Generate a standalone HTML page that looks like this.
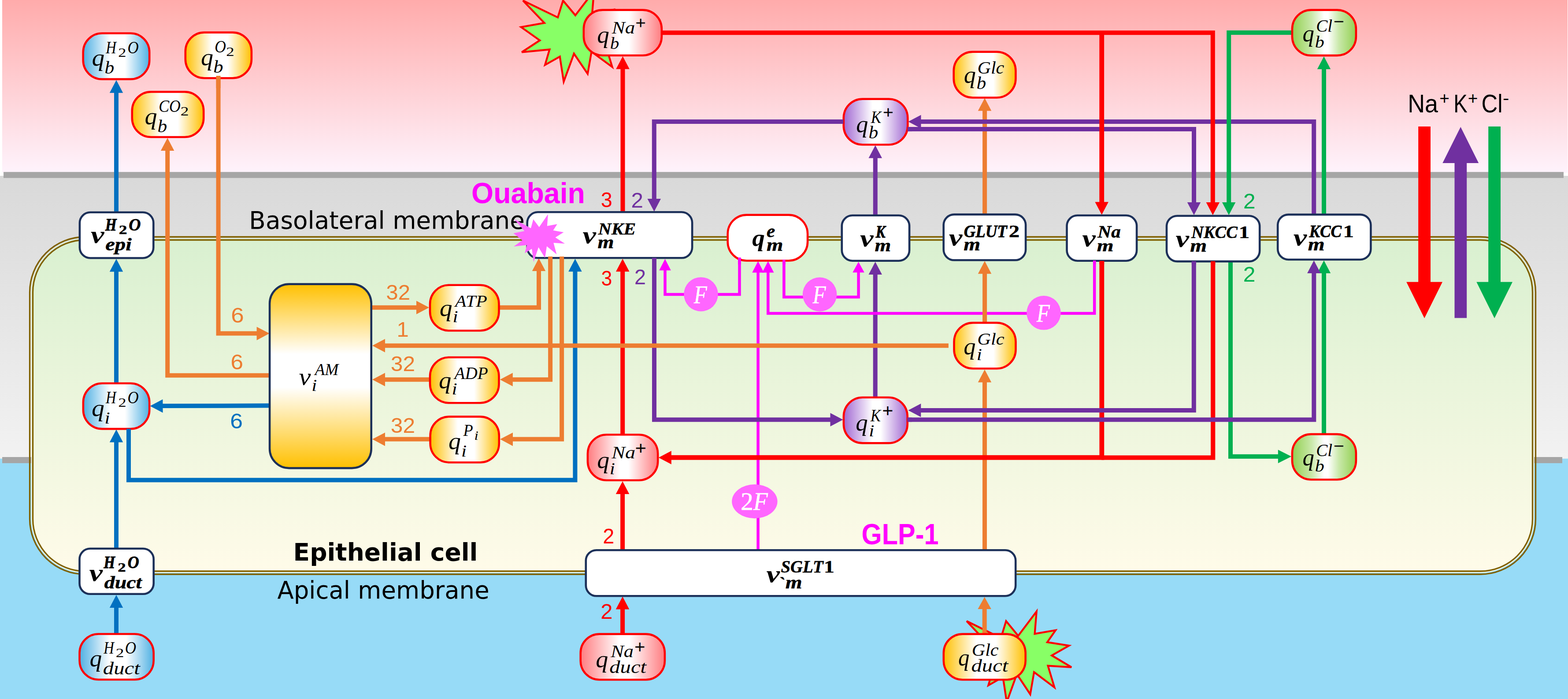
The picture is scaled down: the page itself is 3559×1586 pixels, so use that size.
<!DOCTYPE html>
<html lang="en"><head><meta charset="utf-8"><title>Epithelial cell transport model</title>
<style>html,body{margin:0;padding:0;background:#fff;overflow:hidden}svg{display:block}text{white-space:pre}.sans{font-family:"Liberation Sans",sans-serif}.sb{font-family:"Liberation Sans",sans-serif;font-weight:bold}.dv{font-family:"DejaVu Sans","Liberation Sans",sans-serif}.dvb{font-family:"DejaVu Sans","Liberation Sans",sans-serif;font-weight:bold}.mi{font-family:"Liberation Serif",serif;font-style:italic}.mb{font-family:"Liberation Serif",serif;font-style:italic;font-weight:bold}.mr{font-family:"Liberation Serif",serif}.mB{font-family:"Liberation Serif",serif;font-weight:bold}</style></head><body>
<svg width="3559" height="1586" viewBox="0 0 3559 1586">
<defs>
<linearGradient id="gPink" x1="0" y1="0" x2="0" y2="1"><stop offset="0" stop-color="#ffabab"/><stop offset="1" stop-color="#fef3fc"/></linearGradient>
<linearGradient id="gGray" x1="0" y1="0" x2="0" y2="1"><stop offset="0" stop-color="#d9d9d9"/><stop offset="1" stop-color="#f2f2f2"/></linearGradient>
<linearGradient id="gCell" x1="0" y1="0" x2="0" y2="1"><stop offset="0" stop-color="#d9f0d0"/><stop offset="1" stop-color="#fffbe9"/></linearGradient>
<linearGradient id="gAM" x1="0" y1="0" x2="0" y2="1"><stop offset="0.000" stop-color="#ffc000"/><stop offset="0.380" stop-color="#fff"/><stop offset="0.560" stop-color="#fff"/><stop offset="1.000" stop-color="#ffc000"/></linearGradient>
<linearGradient id="gB" x1="0" y1="0" x2="1" y2="0"><stop offset="0.000" stop-color="#4fb0e3"/><stop offset="0.410" stop-color="#fff"/><stop offset="0.630" stop-color="#fff"/><stop offset="1.000" stop-color="#4fb0e3"/></linearGradient>
<linearGradient id="gY" x1="0" y1="0" x2="1" y2="0"><stop offset="0.000" stop-color="#ffc000"/><stop offset="0.400" stop-color="#fff"/><stop offset="0.640" stop-color="#fff"/><stop offset="1.000" stop-color="#ffc000"/></linearGradient>
<linearGradient id="gR" x1="0" y1="0" x2="1" y2="0"><stop offset="0.000" stop-color="#ff7c80"/><stop offset="0.460" stop-color="#fff"/><stop offset="0.580" stop-color="#fff"/><stop offset="1.000" stop-color="#ff7c80"/></linearGradient>
<linearGradient id="gP" x1="0" y1="0" x2="1" y2="0"><stop offset="0.000" stop-color="#a168d2"/><stop offset="0.450" stop-color="#fff"/><stop offset="0.580" stop-color="#fff"/><stop offset="1.000" stop-color="#a168d2"/></linearGradient>
<linearGradient id="gG" x1="0" y1="0" x2="1" y2="0"><stop offset="0.000" stop-color="#92d050"/><stop offset="0.300" stop-color="#c8e8a8"/><stop offset="0.500" stop-color="#fff"/><stop offset="0.560" stop-color="#fff"/><stop offset="0.736" stop-color="#c8e8a8"/><stop offset="1.000" stop-color="#92d050"/></linearGradient>
</defs>
<rect x="0" y="0" width="3559" height="1586" fill="#fff"/>
<rect x="5" y="0" width="3553" height="392" fill="url(#gPink)"/>
<rect x="0" y="399" width="3559" height="642" fill="url(#gGray)"/>
<rect x="0" y="1040.6" width="3559" height="546" fill="#97dbf7"/>
<rect x="8" y="390.2" width="3541" height="13.6" fill="#a6a6a6"/>
<rect x="5" y="1037" width="66" height="13.9" fill="#a6a6a6"/>
<rect x="3482" y="1037" width="64" height="13.9" fill="#a6a6a6"/>
<rect x="71" y="541" width="3411" height="758.5" rx="122" fill="url(#gCell)"/>
<rect x="67.5" y="537.5" width="3418" height="765.5" rx="125.5" fill="none" stroke="#7f6000" stroke-width="3.3"/>
<rect x="74.5" y="544.5" width="3404" height="751.5" rx="118.5" fill="none" stroke="#7f6000" stroke-width="3.3"/>
<text transform="translate(565.36 519.3) scale(0.989 1)" font-size="55.4" class="dv">Basolateral membrane</text>
<text transform="translate(665.61 1272) scale(0.982 1)" font-size="56" class="dvb">Epithelial cell</text>
<text transform="translate(629.39 1358.3) scale(0.974 1)" font-size="56" class="dv">Apical membrane</text>
<polygon points="1305.9,34.7 1348.3,-20.6 1344.1,30.2 1392.3,21.9 1373.2,49.1 1423.3,57 1383.5,79.3 1429,106.1 1374.7,102.8 1389.6,151.9 1342.6,117.2 1333.8,167.5 1302.8,121.8 1279.5,185.3 1270.7,128.4 1237.1,147.3 1247.4,112.3 1184.3,118.4 1225.2,91.6 1182.8,61.5 1235.5,52 1187,1.3 1266.1,39.6 1278,1.3" fill="#88ff66" stroke="#ff0000" stroke-width="4.3" stroke-linejoin="miter" stroke-miterlimit="4.1"/>
<polygon points="2311,1442.7 2352.7,1387.5 2348.6,1438.2 2395.9,1429.9 2377.1,1457.1 2426.4,1464.9 2387.3,1487.2 2432,1513.9 2378.6,1510.6 2393.3,1559.7 2347.1,1525 2338.4,1575.3 2308,1529.6 2285.1,1593 2276.4,1536.2 2243.4,1555.1 2253.5,1520.1 2191.5,1526.3 2231.7,1499.5 2190,1469.5 2241.8,1460 2194.1,1409.3 2271.9,1447.6 2283.6,1409.3" fill="#88ff66" stroke="#ff0000" stroke-width="4.3" stroke-linejoin="miter" stroke-miterlimit="4.1"/>
<polygon points="3219.2,287 3247,287 3247,639.7 3274,639.7 3233.1,722 3192.2,639.7 3219.2,639.7" fill="#ff0000"/>
<polygon points="3315.3,288 3356.2,370 3329.2,370 3329.2,721.5 3301.5,721.5 3301.5,370 3274.3,370" fill="#7030a0"/>
<polygon points="3378.2,287 3406,287 3406,639.7 3433,639.7 3392.1,722 3351.3,639.7 3378.2,639.7" fill="#00b050"/>
<polyline points="1720.6,1248 1720.6,617.5" fill="none" stroke="#ff00ff" stroke-width="6.5"/>
<polygon points="1720.6,592.5 1733.8,618.5 1707.3,618.5" fill="#ff00ff"/>
<polyline points="1678.5,584.3 1678.5,668 1509.5,668 1509.5,612.5" fill="none" stroke="#ff00ff" stroke-width="6.5"/>
<polygon points="1509.5,587.5 1522.8,613.5 1496.2,613.5" fill="#ff00ff"/>
<polyline points="1779.4,589.3 1779.4,674 1948.6,674 1948.6,617.3" fill="none" stroke="#ff00ff" stroke-width="6.5"/>
<polygon points="1948.6,594 1961.8,618.3 1935.3,618.3" fill="#ff00ff"/>
<polyline points="264,1439 264,1378" fill="none" stroke="#0070c0" stroke-width="10"/>
<polygon points="264,1350 279.2,1379 248.8,1379" fill="#0070c0"/>
<polyline points="264,1244 264,1002.5" fill="none" stroke="#0070c0" stroke-width="10"/>
<polygon points="264,974.5 279.2,1003.5 248.8,1003.5" fill="#0070c0"/>
<polyline points="264,869 264,615.5" fill="none" stroke="#0070c0" stroke-width="10"/>
<polygon points="264,587.5 279.2,616.5 248.8,616.5" fill="#0070c0"/>
<polyline points="264,482 264,209.7" fill="none" stroke="#0070c0" stroke-width="10"/>
<polygon points="264,181.7 279.2,210.7 248.8,210.7" fill="#0070c0"/>
<polyline points="612,920.3 368.5,921.1" fill="none" stroke="#0070c0" stroke-width="10"/>
<polygon points="340.5,921.2 369.4,905.9 369.6,936.4" fill="#0070c0"/>
<polyline points="292,971 292,1089.3 1305.4,1089.3 1305.4,615.3" fill="none" stroke="#0070c0" stroke-width="10"/>
<polygon points="1305.4,587.3 1320.7,616.3 1290.2,616.3" fill="#0070c0"/>
<polyline points="2235.1,488 2235.1,250.5" fill="none" stroke="#ed7d31" stroke-width="10"/>
<polygon points="2235.1,222.5 2250.3,251.5 2219.8,251.5" fill="#ed7d31"/>
<polyline points="2235,1249 2235,866.4" fill="none" stroke="#ed7d31" stroke-width="10"/>
<polygon points="2235,838.4 2250.2,867.4 2219.8,867.4" fill="#ed7d31"/>
<polyline points="2234.7,1439 2234.7,1381" fill="none" stroke="#ed7d31" stroke-width="10"/>
<polygon points="2234.7,1354.5 2249.9,1382 2219.4,1382" fill="#ed7d31"/>
<polyline points="1413.1,1439 1413.1,1381.5" fill="none" stroke="#ff0000" stroke-width="10"/>
<polygon points="1413.1,1353.5 1428.3,1382.5 1397.8,1382.5" fill="#ff0000"/>
<polyline points="1413.1,1249 1413.1,1120" fill="none" stroke="#ff0000" stroke-width="10"/>
<polygon points="1413.1,1092 1428.3,1121 1397.8,1121" fill="#ff0000"/>
<polyline points="1413.2,987 1413.2,615.3" fill="none" stroke="#ff0000" stroke-width="10"/>
<polygon points="1413.2,587.3 1428.5,616.3 1398,616.3" fill="#ff0000"/>
<polyline points="1413.5,482 1413.5,155.8" fill="none" stroke="#ff0000" stroke-width="10"/>
<polygon points="1413.5,127.8 1428.8,156.8 1398.2,156.8" fill="#ff0000"/>
<polyline points="2753.2,593 2753.2,1038.4 2500,1038.4" fill="none" stroke="#ff0000" stroke-width="10.2"/>
<polyline points="2500.8,592 2500.8,1038.2 1522.8,1038.2" fill="none" stroke="#ff0000" stroke-width="10.8"/>
<polygon points="1494.8,1038.2 1523.8,1023 1523.8,1053.5" fill="#ff0000"/>
<polyline points="3005,986 3005,619" fill="none" stroke="#00b050" stroke-width="10"/>
<polygon points="3005,591 3020.2,620 2989.8,620" fill="#00b050"/>
<polyline points="2793,593 2793,1035.8 2901.9,1035.8" fill="none" stroke="#00b050" stroke-width="10"/>
<polygon points="2931.2,1035.8 2900.9,1051 2900.9,1020.5" fill="#00b050"/>
<polyline points="1915,276 1484.8,276 1484.8,452" fill="none" stroke="#7030a0" stroke-width="10"/>
<polygon points="1484.8,480 1469.5,451 1500,451" fill="#7030a0"/>
<polyline points="1485,585 1485,952.2 1885.5,952.2" fill="none" stroke="#7030a0" stroke-width="10"/>
<polygon points="1913.5,952.2 1884.5,967.5 1884.5,937" fill="#7030a0"/>
<polyline points="1986.8,489 1986.8,357.8" fill="none" stroke="#7030a0" stroke-width="10"/>
<polygon points="1986.8,329.8 2002,358.8 1971.5,358.8" fill="#7030a0"/>
<polyline points="1986.7,903 1986.7,622" fill="none" stroke="#7030a0" stroke-width="10"/>
<polygon points="1986.7,594 2002,623 1971.5,623" fill="#7030a0"/>
<polyline points="2982.2,487 2982.2,276 2089.5,276" fill="none" stroke="#7030a0" stroke-width="10"/>
<polygon points="2061.5,276 2090.5,260.8 2090.5,291.2" fill="#7030a0"/>
<polyline points="2059,293.1 2710,293.1 2710,460" fill="none" stroke="#7030a0" stroke-width="10"/>
<polygon points="2710,488 2694.8,459 2725.2,459" fill="#7030a0"/>
<polyline points="2709.8,593 2709.8,931 2089.3,931" fill="none" stroke="#7030a0" stroke-width="10"/>
<polygon points="2061.3,931 2090.3,915.8 2090.3,946.2" fill="#7030a0"/>
<polyline points="2059,952.2 2982.3,952.2 2982.3,619" fill="none" stroke="#7030a0" stroke-width="10"/>
<polygon points="2982.3,591 2997.6,620 2967.1,620" fill="#7030a0"/>
<polyline points="2484.2,592 2484.2,711 1743.3,711 1743.3,617.5" fill="none" stroke="#ff00ff" stroke-width="6.5"/>
<polygon points="1743.3,592.5 1756.5,618.5 1730,618.5" fill="#ff00ff"/>
<polyline points="2235.1,733 2235.1,620.2" fill="none" stroke="#ed7d31" stroke-width="10"/>
<polygon points="2235.1,592.2 2250.3,621.2 2219.8,621.2" fill="#ed7d31"/>
<polyline points="2500.7,74.3 2500.7,459.3" fill="none" stroke="#ff0000" stroke-width="10.8"/>
<polygon points="2500.7,487.3 2485.4,458.3 2515.9,458.3" fill="#ff0000"/>
<polyline points="1501,74.3 2752.8,74.3 2752.8,460" fill="none" stroke="#ff0000" stroke-width="10"/>
<polygon points="2752.8,488 2737.6,459 2768.1,459" fill="#ff0000"/>
<polyline points="2933,74 2789.2,74 2789.2,460" fill="none" stroke="#00b050" stroke-width="10"/>
<polygon points="2789.2,488 2773.9,459 2804.4,459" fill="#00b050"/>
<polyline points="3005,487 3005,156" fill="none" stroke="#00b050" stroke-width="10"/>
<polygon points="3005,128 3020.2,157 2989.8,157" fill="#00b050"/>
<polyline points="495.6,172 495.6,756.6 583.6,756.6" fill="none" stroke="#ed7d31" stroke-width="10"/>
<polygon points="611.6,756.6 582.6,771.9 582.6,741.4" fill="#ed7d31"/>
<polyline points="612,851.8 380.2,851.8 380.2,341" fill="none" stroke="#ed7d31" stroke-width="10"/>
<polygon points="380.2,313 395.4,342 364.9,342" fill="#ed7d31"/>
<polyline points="843,697.8 946,697.8" fill="none" stroke="#ed7d31" stroke-width="10"/>
<polygon points="974,697.8 945,713 945,682.5" fill="#ed7d31"/>
<polyline points="976,861.3 873,861.3" fill="none" stroke="#ed7d31" stroke-width="10"/>
<polygon points="845,861.3 874,846 874,876.5" fill="#ed7d31"/>
<polyline points="976,996.6 873,996.6" fill="none" stroke="#ed7d31" stroke-width="10"/>
<polygon points="845,996.6 874,981.4 874,1011.9" fill="#ed7d31"/>
<polyline points="1131,697.8 1223,697.8 1223,614" fill="none" stroke="#ed7d31" stroke-width="10"/>
<polygon points="1223,586 1238.2,615 1207.8,615" fill="#ed7d31"/>
<polyline points="1249.1,582 1249.1,861.3 1162.8,861.3" fill="none" stroke="#ed7d31" stroke-width="10"/>
<polygon points="1134.8,861.3 1163.8,846 1163.8,876.5" fill="#ed7d31"/>
<polyline points="1275.1,582 1275.1,996.6 1163,996.6" fill="none" stroke="#ed7d31" stroke-width="10"/>
<polygon points="1135,996.6 1164,981.4 1164,1011.9" fill="#ed7d31"/>
<polyline points="2152.9,784.2 873,784.2" fill="none" stroke="#ed7d31" stroke-width="10"/>
<polygon points="845,784.2 874,769 874,799.5" fill="#ed7d31"/>
<ellipse cx="1591" cy="667.7" rx="38.8" ry="38.8" fill="#ff66ff"/>
<text transform="translate(1575.04 687.8) scale(0.869 1)" font-size="56" class="mi" fill="#fff" stroke="#fff" stroke-width="0.7">F</text>
<ellipse cx="1860.6" cy="668" rx="38.8" ry="38.8" fill="#ff66ff"/>
<text transform="translate(1844.64 688.1) scale(0.869 1)" font-size="56" class="mi" fill="#fff" stroke="#fff" stroke-width="0.7">F</text>
<ellipse cx="2369" cy="709.8" rx="38.8" ry="38.8" fill="#ff66ff"/>
<text transform="translate(2353.04 729.9) scale(0.869 1)" font-size="56" class="mi" fill="#fff" stroke="#fff" stroke-width="0.7">F</text>
<ellipse cx="1712.9" cy="1137.7" rx="51.7" ry="38.6" fill="#ff66ff"/>
<text transform="translate(1681.17 1157.2) scale(1.020 1)" font-size="56" class="mr" fill="#fff" stroke="#fff" stroke-width="0.7">2</text>
<text transform="translate(1709.97 1157.2) scale(0.957 1)" font-size="56" class="mi" fill="#fff" stroke="#fff" stroke-width="0.7">F</text>
<rect x="188.7" y="75.5" width="150.5" height="104.1" rx="43" fill="url(#gB)" stroke="#ff0000" stroke-width="4.6"/>
<rect x="420.8" y="73.6" width="150.1" height="103.7" rx="43" fill="url(#gY)" stroke="#ff0000" stroke-width="4.6"/>
<rect x="299.8" y="208.4" width="162.4" height="102.6" rx="43" fill="url(#gY)" stroke="#ff0000" stroke-width="4.6"/>
<rect x="188.9" y="869.7" width="150.3" height="103.4" rx="43" fill="url(#gB)" stroke="#ff0000" stroke-width="4.6"/>
<rect x="180.5" y="1438.5" width="168.2" height="103.5" rx="43" fill="url(#gB)" stroke="#ff0000" stroke-width="4.6"/>
<rect x="976" y="646.8" width="156.5" height="103.5" rx="43" fill="url(#gY)" stroke="#ff0000" stroke-width="4.6"/>
<rect x="976" y="810.7" width="156.5" height="103.5" rx="43" fill="url(#gY)" stroke="#ff0000" stroke-width="4.6"/>
<rect x="976.6" y="945.4" width="156.2" height="103.9" rx="43" fill="url(#gY)" stroke="#ff0000" stroke-width="4.6"/>
<rect x="1324.8" y="22.6" width="177.1" height="103.1" rx="43" fill="url(#gR)" stroke="#ff0000" stroke-width="4.6"/>
<rect x="1651.7" y="487.6" width="181.4" height="103.9" rx="43" fill="#fff" stroke="#ff0000" stroke-width="4.6"/>
<rect x="1914.8" y="224.6" width="145.5" height="103.7" rx="43" fill="url(#gP)" stroke="#ff0000" stroke-width="4.6"/>
<rect x="2164.7" y="117.6" width="140.7" height="103.9" rx="43" fill="url(#gY)" stroke="#ff0000" stroke-width="4.6"/>
<rect x="2933" y="22.6" width="144.9" height="103.3" rx="43" fill="url(#gG)" stroke="#ff0000" stroke-width="4.6"/>
<rect x="2165.5" y="732.4" width="140" height="103.9" rx="43" fill="url(#gY)" stroke="#ff0000" stroke-width="4.6"/>
<rect x="1914.9" y="901.8" width="144.8" height="103.6" rx="43" fill="url(#gP)" stroke="#ff0000" stroke-width="4.6"/>
<rect x="1333.9" y="986.3" width="159.3" height="103.5" rx="43" fill="url(#gR)" stroke="#ff0000" stroke-width="4.6"/>
<rect x="2933" y="985.1" width="144.9" height="103.2" rx="43" fill="url(#gG)" stroke="#ff0000" stroke-width="4.6"/>
<rect x="1317.7" y="1438.6" width="191.2" height="103.7" rx="43" fill="url(#gR)" stroke="#ff0000" stroke-width="4.6"/>
<rect x="2141.8" y="1438.6" width="185.9" height="103.7" rx="43" fill="url(#gY)" stroke="#ff0000" stroke-width="4.6"/>
<rect x="180.9" y="481.8" width="167.4" height="103.7" rx="24" fill="#fff" stroke="#1c3059" stroke-width="4.6"/>
<rect x="180.5" y="1244.8" width="168.2" height="103" rx="24" fill="#fff" stroke="#1c3059" stroke-width="4.6"/>
<rect x="1196.7" y="481.3" width="374.4" height="104" rx="24" fill="#fff" stroke="#1c3059" stroke-width="4.6"/>
<rect x="1910.8" y="488.8" width="153.3" height="102.9" rx="24" fill="#fff" stroke="#1c3059" stroke-width="4.6"/>
<rect x="2141.7" y="486.6" width="186.4" height="103.7" rx="24" fill="#fff" stroke="#1c3059" stroke-width="4.6"/>
<rect x="2421.5" y="488.8" width="158.6" height="102.9" rx="24" fill="#fff" stroke="#1c3059" stroke-width="4.6"/>
<rect x="2648" y="489.7" width="211.2" height="103.4" rx="24" fill="#fff" stroke="#1c3059" stroke-width="4.6"/>
<rect x="2900.2" y="486.9" width="211.2" height="102.1" rx="24" fill="#fff" stroke="#1c3059" stroke-width="4.6"/>
<rect x="1329.8" y="1248.2" width="975.4" height="104.1" rx="24" fill="#fff" stroke="#1c3059" stroke-width="4.6"/>
<rect x="612.1" y="644.6" width="230.6" height="417.5" rx="44" fill="url(#gAM)" stroke="#1c3059" stroke-width="4.6"/>
<polyline points="495.6,172 495.6,200" fill="none" stroke="#ed7d31" stroke-width="10"/>
<polyline points="1678.5,584.3 1678.5,600" fill="none" stroke="#ff00ff" stroke-width="6.5"/>
<polyline points="1779.4,589.3 1779.4,600" fill="none" stroke="#ff00ff" stroke-width="6.5"/>
<polyline points="2484.2,591.2 2484.2,600" fill="none" stroke="#ff00ff" stroke-width="6.5"/>
<polyline points="2500.8,592 2500.8,600" fill="none" stroke="#ff0000" stroke-width="10.8"/>
<polyline points="2709.8,592.6 2709.8,600" fill="none" stroke="#7030a0" stroke-width="10"/>
<polyline points="2753.2,592.6 2753.2,600" fill="none" stroke="#ff0000" stroke-width="10.2"/>
<polyline points="1249.1,582 1249.1,595" fill="none" stroke="#ed7d31" stroke-width="10"/>
<polyline points="1275.1,582 1275.1,595" fill="none" stroke="#ed7d31" stroke-width="10"/>
<polyline points="1485,585 1485,595" fill="none" stroke="#7030a0" stroke-width="10"/>
<polyline points="292,972.7 292,985" fill="none" stroke="#0070c0" stroke-width="10"/>
<polyline points="2060,293.1 2070,293.1" fill="none" stroke="#7030a0" stroke-width="10"/>
<polyline points="1914.2,276 1905,276" fill="none" stroke="#7030a0" stroke-width="10"/>
<polyline points="2059.4,952.2 2070,952.2" fill="none" stroke="#7030a0" stroke-width="10"/>
<polygon points="1223.8,515.2 1243.9,486.1 1241.9,512.8 1264.7,508.5 1255.6,522.8 1279.4,526.9 1260.5,538.7 1282.1,552.8 1256.4,551 1263.4,576.9 1241.1,558.7 1237,585.2 1222.3,561.1 1211.2,594.5 1207.1,564.5 1191.1,574.5 1196,556 1166.1,559.3 1185.5,545.2 1165.4,529.3 1190.4,524.3 1167.4,497.6 1204.9,517.8 1210.5,497.6" fill="#ff66ff"/>
<text transform="translate(208.44 149.3) scale(1.038 1)" font-size="55" class="mi">q</text>
<text transform="translate(237.47 166.5) scale(1.115 1)" font-size="39" class="mi">b</text>
<text transform="translate(240.29 121.2) scale(0.840 1)" font-size="39" class="mi">H</text>
<text transform="translate(268.15 129.1) scale(1.217 1)" font-size="30" class="mr">2</text>
<text transform="translate(289.45 121.2) scale(0.895 1)" font-size="39" class="mi">O</text>
<text transform="translate(455.88 147.6) scale(1.017 1)" font-size="55" class="mi">q</text>
<text transform="translate(484.33 164.7) scale(1.144 1)" font-size="39" class="mi">b</text>
<text transform="translate(487.22 119.4) scale(0.911 1)" font-size="39" class="mi">O</text>
<text transform="translate(513.23 127.3) scale(1.234 1)" font-size="30" class="mr">2</text>
<text transform="translate(328.58 281.7) scale(1.017 1)" font-size="55" class="mi">q</text>
<text transform="translate(357.57 299.5) scale(1.115 1)" font-size="39" class="mi">b</text>
<text transform="translate(360.13 254.1) scale(0.916 1)" font-size="39" class="mi">CO</text>
<text transform="translate(409.86 261.6) scale(1.250 1)" font-size="30" class="mr">2</text>
<text transform="translate(205.95 551.1) scale(1.250 1)" font-size="55" class="mb">v</text>
<text transform="translate(238.98 522.6) scale(0.840 1)" font-size="39" class="mb" stroke="#000" stroke-width="1.20">H</text>
<text transform="translate(269.83 531.2) scale(1.250 1)" font-size="30" class="mB" stroke="#000" stroke-width="0.50">2</text>
<text transform="translate(292.18 522.6) scale(0.967 1)" font-size="39" class="mb" stroke="#000" stroke-width="0.66">O</text>
<text transform="translate(239.22 567.9) scale(1.250 1)" font-size="39" class="mb" stroke="#000" stroke-width="0.50">epi</text>
<text transform="translate(207.93 943.6) scale(1.046 1)" font-size="55" class="mi">q</text>
<text transform="translate(237.54 961) scale(1.120 1)" font-size="39" class="mi">i</text>
<text transform="translate(239.89 914.6) scale(0.840 1)" font-size="39" class="mi">H</text>
<text transform="translate(268.46 923.2) scale(1.209 1)" font-size="30" class="mr">2</text>
<text transform="translate(289.45 914.6) scale(0.895 1)" font-size="39" class="mi">O</text>
<text transform="translate(202.45 1318) scale(1.250 1)" font-size="55" class="mb">v</text>
<text transform="translate(235.43 1288.8) scale(0.840 1)" font-size="39" class="mb" stroke="#000" stroke-width="1.20">H</text>
<text transform="translate(267.23 1296.9) scale(1.229 1)" font-size="30" class="mB" stroke="#000" stroke-width="0.50">2</text>
<text transform="translate(289.84 1288.8) scale(0.921 1)" font-size="39" class="mb" stroke="#000" stroke-width="0.90">O</text>
<text transform="translate(236.7 1335.3) scale(1.229 1)" font-size="39" class="mb" stroke="#000" stroke-width="0.50">duct</text>
<text transform="translate(203.4 1511.8) scale(1.005 1)" font-size="55" class="mi">q</text>
<text transform="translate(235.19 1483) scale(0.840 1)" font-size="39" class="mi">H</text>
<text transform="translate(262.71 1491.4) scale(1.250 1)" font-size="30" class="mr">2</text>
<text transform="translate(283.75 1483) scale(0.899 1)" font-size="39" class="mi">O</text>
<text transform="translate(233.8 1529.6) scale(1.250 1)" font-size="39" class="mi">duct</text>
<text transform="translate(678.39 873.2) scale(1.104 1)" font-size="55" class="mi">v</text>
<text transform="translate(707.19 886.6) scale(1.120 1)" font-size="39" class="mi">i</text>
<text transform="translate(714.74 850.5) scale(0.951 1)" font-size="39" class="mi">AM</text>
<text transform="translate(997.73 716.9) scale(1.046 1)" font-size="55" class="mi">q</text>
<text transform="translate(1027.44 730.9) scale(1.120 1)" font-size="39" class="mi">i</text>
<text transform="translate(1033.1 696) scale(1.071 1)" font-size="39" class="mi">ATP</text>
<text transform="translate(996.07 880.7) scale(1.026 1)" font-size="55" class="mi">q</text>
<text transform="translate(1025.59 894.7) scale(1.120 1)" font-size="39" class="mi">i</text>
<text transform="translate(1031.55 859.6) scale(1.004 1)" font-size="39" class="mi">ADP</text>
<text transform="translate(1017.99 1018.5) scale(1.013 1)" font-size="55" class="mi">q</text>
<text transform="translate(1046.94 1036.3) scale(1.120 1)" font-size="39" class="mi">i</text>
<text transform="translate(1051.48 989) scale(0.930 1)" font-size="39" class="mi">P</text>
<text transform="translate(1076.62 997.5) scale(1.120 1)" font-size="30" class="mi">i</text>
<text transform="translate(1322.51 551.7) scale(1.249 1)" font-size="55" class="mb">v</text>
<text transform="translate(1356.45 563.4) scale(1.221 1)" font-size="39" class="mb" stroke="#000" stroke-width="0.50">m</text>
<text transform="translate(1357.82 532.1) scale(1.065 1)" font-size="39" class="mb" stroke="#000" stroke-width="0.50">NKE</text>
<text transform="translate(1355.21 97) scale(1.001 1)" font-size="55" class="mi">q</text>
<text transform="translate(1384.76 111.3) scale(1.055 1)" font-size="39" class="mi">b</text>
<text transform="translate(1388.74 75.5) scale(1.154 1)" font-size="39" class="mi">Na</text>
<text transform="translate(1442.78 65.27) scale(1.037 1)" font-size="39" class="mr" stroke="#000" stroke-width="0.8">+</text>
<text transform="translate(1707.28 557.6) scale(1.042 1)" font-size="55" class="mb">q</text>
<text transform="translate(1739.94 569) scale(1.235 1)" font-size="39" class="mb" stroke="#000" stroke-width="0.50">m</text>
<text transform="translate(1739.93 537.5) scale(1.109 1)" font-size="39" class="mb" stroke="#000" stroke-width="0.50">e</text>
<text transform="translate(1951.95 558.7) scale(1.250 1)" font-size="55" class="mb">v</text>
<text transform="translate(1985.55 569.8) scale(1.213 1)" font-size="39" class="mb" stroke="#000" stroke-width="0.50">m</text>
<text transform="translate(1987.84 538.9) scale(0.840 1)" font-size="39" class="mb" stroke="#000" stroke-width="1.20">K</text>
<text transform="translate(1943.14 299.5) scale(0.985 1)" font-size="55" class="mi">q</text>
<text transform="translate(1971.57 313.7) scale(1.115 1)" font-size="39" class="mi">b</text>
<text transform="translate(1976.74 278.7) scale(0.905 1)" font-size="39" class="mi">K</text>
<text transform="translate(2004.14 268.17) scale(1.059 1)" font-size="39" class="mr" stroke="#000" stroke-width="0.8">+</text>
<text transform="translate(2187.74 188) scale(0.985 1)" font-size="55" class="mi">q</text>
<text transform="translate(2216.57 202.4) scale(1.115 1)" font-size="39" class="mi">b</text>
<text transform="translate(2218.59 166.9) scale(1.078 1)" font-size="39" class="mi">Glc</text>
<text transform="translate(2153.85 556.8) scale(1.250 1)" font-size="55" class="mb">v</text>
<text transform="translate(2187.27 567.8) scale(1.250 1)" font-size="39" class="mb" stroke="#000" stroke-width="0.50">m</text>
<text transform="translate(2187.71 537.5) scale(0.944 1)" font-size="39" class="mb" stroke="#000" stroke-width="0.78">GLUT</text>
<text transform="translate(2289.81 537.5) scale(1.250 1)" font-size="39" class="mB" stroke="#000" stroke-width="0.50">2</text>
<text transform="translate(2456.35 558.7) scale(1.250 1)" font-size="55" class="mb">v</text>
<text transform="translate(2489.83 569.8) scale(1.246 1)" font-size="39" class="mb" stroke="#000" stroke-width="0.50">m</text>
<text transform="translate(2491.23 538.9) scale(1.102 1)" font-size="39" class="mb" stroke="#000" stroke-width="0.50">Na</text>
<text transform="translate(2668.55 559.6) scale(1.250 1)" font-size="55" class="mb">v</text>
<text transform="translate(2701.27 571.2) scale(1.250 1)" font-size="39" class="mb" stroke="#000" stroke-width="0.50">m</text>
<text transform="translate(2704.28 540.3) scale(0.985 1)" font-size="39" class="mb" stroke="#000" stroke-width="0.58">NKCC</text>
<text transform="translate(2811.74 540.3) scale(1.250 1)" font-size="39" class="mB" stroke="#000" stroke-width="0.50">1</text>
<text transform="translate(2935.85 556.8) scale(1.250 1)" font-size="55" class="mb">v</text>
<text transform="translate(2968.67 568.4) scale(1.250 1)" font-size="39" class="mb" stroke="#000" stroke-width="0.50">m</text>
<text transform="translate(2971.48 537.5) scale(0.944 1)" font-size="39" class="mb" stroke="#000" stroke-width="0.78">KCC</text>
<text transform="translate(3048.49 537.5) scale(1.250 1)" font-size="39" class="mB" stroke="#000" stroke-width="0.50">1</text>
<text transform="translate(2956.39 93.9) scale(0.956 1)" font-size="55" class="mi">q</text>
<text transform="translate(2984.72 107.7) scale(1.079 1)" font-size="39" class="mi">b</text>
<text transform="translate(2987.36 72.1)" font-size="39" class="mi">Cl</text>
<text transform="translate(3027.14 62.17) scale(1.059 1)" font-size="39" class="mr" stroke="#000" stroke-width="0.8">−</text>
<text transform="translate(2187.13 803.5) scale(0.989 1)" font-size="55" class="mi">q</text>
<text transform="translate(2216.64 817.2) scale(1.120 1)" font-size="39" class="mi">i</text>
<text transform="translate(2218.37 781.9) scale(1.085 1)" font-size="39" class="mi">Glc</text>
<text transform="translate(1942.22 976.8) scale(0.997 1)" font-size="55" class="mi">q</text>
<text transform="translate(1972.19 989.5) scale(1.120 1)" font-size="39" class="mi">i</text>
<text transform="translate(1975.74 955.8) scale(0.894 1)" font-size="39" class="mi">K</text>
<text transform="translate(2002.85 945.37) scale(1.103 1)" font-size="39" class="mr" stroke="#000" stroke-width="0.8">+</text>
<text transform="translate(1355.29 1061.9) scale(1.013 1)" font-size="55" class="mi">q</text>
<text transform="translate(1383.79 1076.4) scale(1.120 1)" font-size="39" class="mi">i</text>
<text transform="translate(1388.25 1040.3) scale(1.183 1)" font-size="39" class="mi">Na</text>
<text transform="translate(1442.02 1029.97) scale(1.119 1)" font-size="39" class="mr" stroke="#000" stroke-width="0.8">+</text>
<text transform="translate(2956.39 1056.4) scale(0.956 1)" font-size="55" class="mi">q</text>
<text transform="translate(2984.72 1070.2) scale(1.079 1)" font-size="39" class="mi">b</text>
<text transform="translate(2987.36 1034.6)" font-size="39" class="mi">Cl</text>
<text transform="translate(3027.14 1024.67) scale(1.059 1)" font-size="39" class="mr" stroke="#000" stroke-width="0.8">−</text>
<text transform="translate(1739.5 1321) scale(1.250 1)" font-size="55" class="mb">v</text>
<text transform="translate(1766.19 1336) scale(1.141 1)" font-size="39" class="mb" stroke="#000" stroke-width="0.50">`</text>
<text transform="translate(1782.67 1335.1) scale(1.250 1)" font-size="39" class="mb" stroke="#000" stroke-width="0.50">m</text>
<text transform="translate(1772.42 1298.9) scale(0.994 1)" font-size="39" class="mb" stroke="#000" stroke-width="0.53">SGLT</text>
<text transform="translate(1870.09 1298.9) scale(1.221 1)" font-size="39" class="mB" stroke="#000" stroke-width="0.50">1</text>
<text transform="translate(1352.18 1514) scale(1.017 1)" font-size="55" class="mi">q</text>
<text transform="translate(1383.2 1526.8) scale(1.250 1)" font-size="39" class="mi">duct</text>
<text transform="translate(1386.23 1491.1) scale(1.138 1)" font-size="39" class="mi">Na</text>
<text transform="translate(1440.51 1481.37) scale(1.070 1)" font-size="39" class="mr" stroke="#000" stroke-width="0.8">+</text>
<text transform="translate(2174.95 1510.4) scale(0.923 1)" font-size="55" class="mi">q</text>
<text transform="translate(2204.5 1523.5) scale(1.250 1)" font-size="39" class="mi">duct</text>
<text transform="translate(2205.79 1488.2) scale(1.078 1)" font-size="39" class="mi">Glc</text>
<text transform="translate(524.25 731.6) scale(1.097 1)" font-size="48.3" class="sans" fill="#ed7d31">6</text>
<text transform="translate(523.54 838) scale(1.061 1)" font-size="48.3" class="sans" fill="#ed7d31">6</text>
<text transform="translate(522.32 972.2) scale(1.070 1)" font-size="48.3" class="sans" fill="#0070c0">6</text>
<text transform="translate(876.35 679.9) scale(1.021 1)" font-size="48.3" class="sans" fill="#ed7d31">32</text>
<text transform="translate(900.42 764.3) scale(1.015 1)" font-size="48.3" class="sans" fill="#ed7d31">1</text>
<text transform="translate(886.74 842.1) scale(1.029 1)" font-size="48.3" class="sans" fill="#ed7d31">32</text>
<text transform="translate(886.74 981.9) scale(1.029 1)" font-size="48.3" class="sans" fill="#ed7d31">32</text>
<text transform="translate(1363.96 469.7) scale(0.959 1)" font-size="48.3" class="sans" fill="#ff0000">3</text>
<text transform="translate(1432.53 471.1) scale(1.024 1)" font-size="48.3" class="sans" fill="#7030a0">2</text>
<text transform="translate(1364.64 648.3) scale(0.915 1)" font-size="48.3" class="sans" fill="#ff0000">3</text>
<text transform="translate(1439.97 645.3) scale(0.965 1)" font-size="48.3" class="sans" fill="#7030a0">2</text>
<text transform="translate(2822.12 472.5) scale(1.028 1)" font-size="48.3" class="sans" fill="#00b050">2</text>
<text transform="translate(2821.81 638.5) scale(1.033 1)" font-size="48.3" class="sans" fill="#00b050">2</text>
<text transform="translate(1368.58 1232.5) scale(0.960 1)" font-size="48.3" class="sans" fill="#ff0000">2</text>
<text transform="translate(1363.16 1403.7) scale(1.010 1)" font-size="48.3" class="sans" fill="#ff0000">2</text>
<text transform="translate(1070.02 460.6) scale(0.977 1)" font-size="66" class="sb" fill="#ff00ff">Ouabain</text>
<text transform="translate(1955.62 1235.3) scale(0.900 1)" font-size="66" class="sb" fill="#ff00ff">GLP-1</text>
<text transform="translate(3195.16 255.2) scale(0.929 1)" font-size="58" class="sans">Na</text>
<text transform="translate(3267.26 235.5) scale(1.020 1)" font-size="38" class="sans">+</text>
<text transform="translate(3299.29 255.2) scale(0.816 1)" font-size="58" class="sans">K</text>
<text transform="translate(3331.76 235.5) scale(1.020 1)" font-size="38" class="sans">+</text>
<text transform="translate(3362.46 255.2) scale(0.877 1)" font-size="58" class="sans">Cl</text>
<text transform="translate(3411.05 235.5) scale(1.139 1)" font-size="38" class="sans">-</text>
</svg></body></html>
